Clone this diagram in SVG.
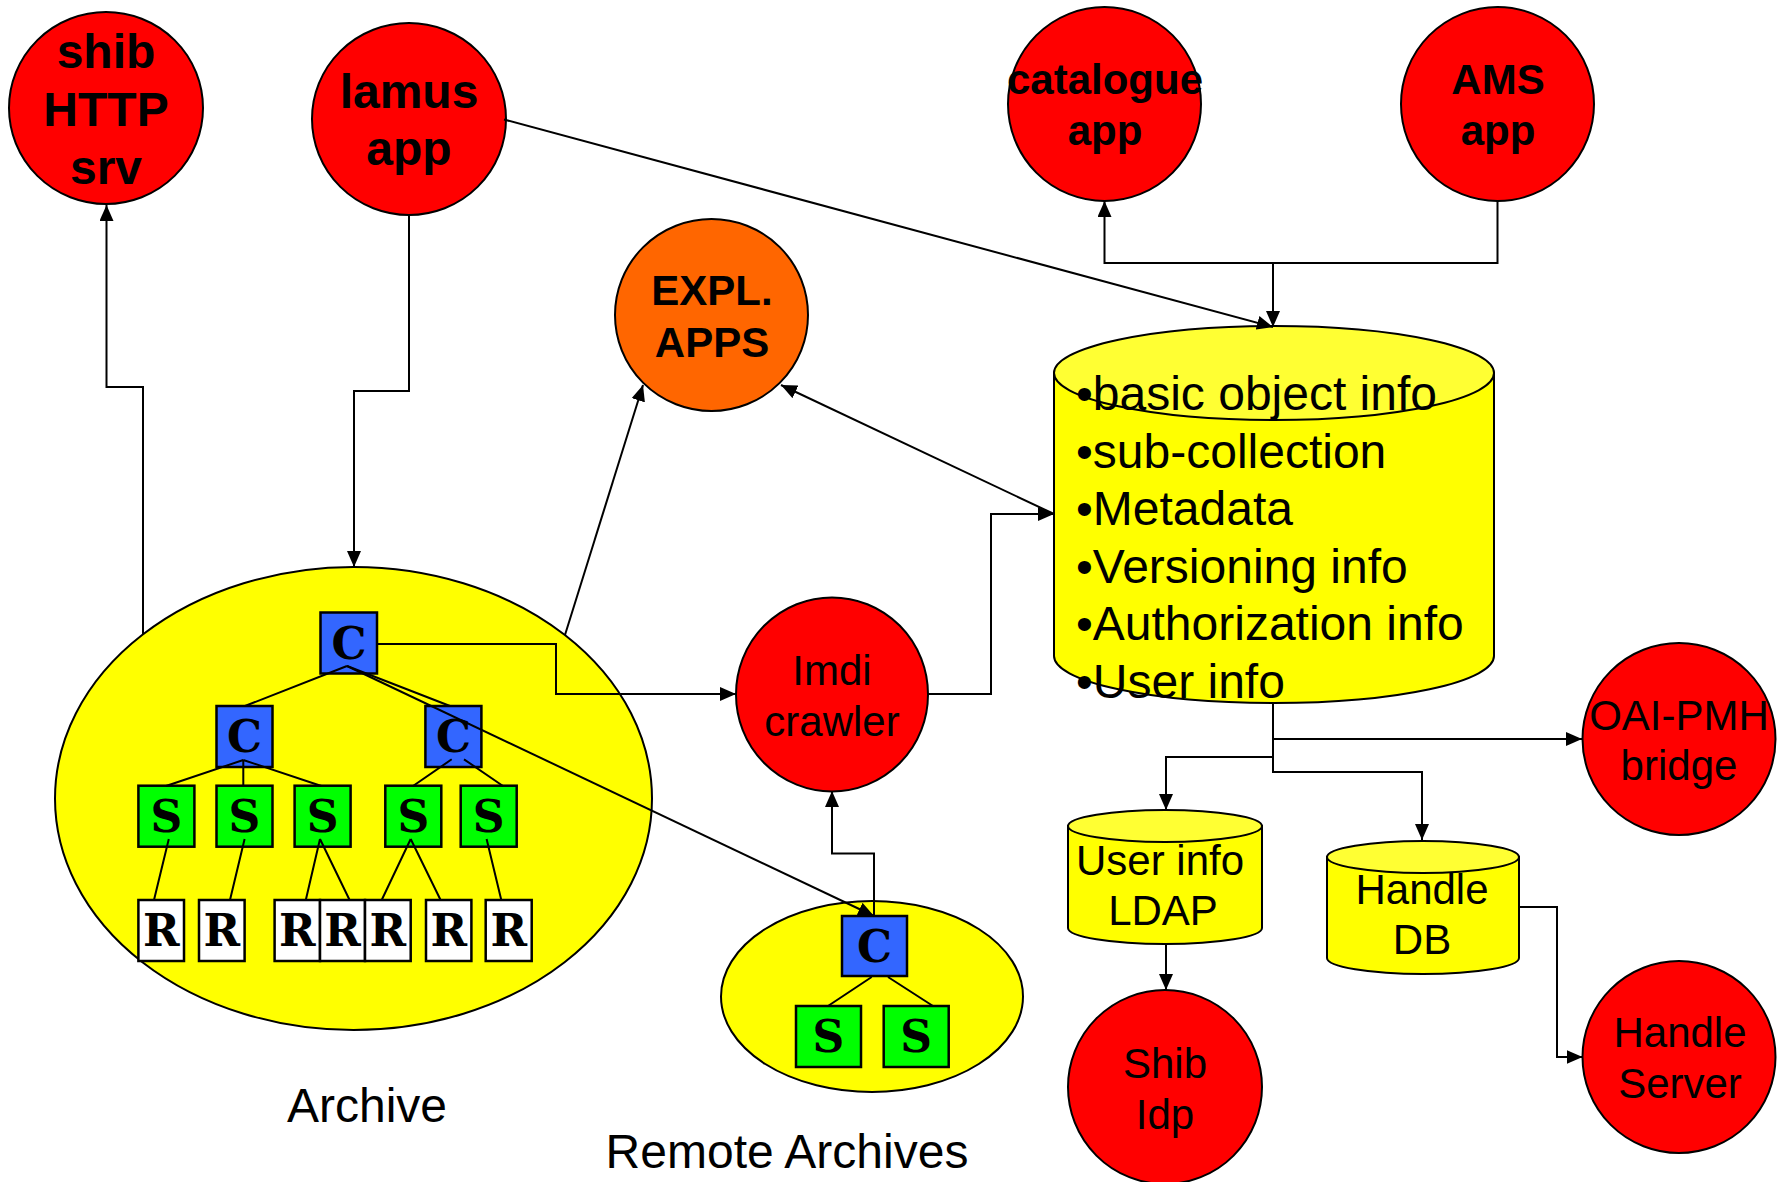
<svg xmlns="http://www.w3.org/2000/svg" width="1785" height="1182" viewBox="0 0 1785 1182">
<style>
.red{fill:#ff0000;stroke:#000;stroke-width:2}
.org{fill:#ff6600;stroke:#000;stroke-width:2}
.yel{fill:#ffff00;stroke:#000;stroke-width:2}
.yeltop{fill:#ffff33;stroke:#000;stroke-width:2}
.blue{fill:#3366ff;stroke:#000;stroke-width:2.5}
.green{fill:#00ff00;stroke:#000;stroke-width:2.5}
.white{fill:#fff;stroke:#000;stroke-width:2.5}
.b{font-family:"Liberation Sans",Arial,sans-serif;font-weight:bold;text-anchor:middle;fill:#000}
.r{font-family:"Liberation Sans",Arial,sans-serif;text-anchor:middle;fill:#000}
.l{font-family:"Liberation Sans",Arial,sans-serif;fill:#000;font-size:48px}
.t{font-family:"DejaVu Serif",serif;font-weight:bold;font-size:44px;text-anchor:middle;fill:#000}
.e{fill:none;stroke:#000;stroke-width:2}
.c{fill:none;stroke:#000;stroke-width:2;marker-end:url(#ah)}
</style>
<defs>
<marker id="ah" markerUnits="userSpaceOnUse" markerWidth="16" markerHeight="14" refX="16" refY="7" orient="auto">
<path d="M0,0 L16,7 L0,14 z" fill="#000"/>
</marker>
</defs>
<rect width="1785" height="1182" fill="#fff"/>

<g id="shib-http-srv">
<ellipse class="red" cx="106" cy="108" rx="97" ry="96"/>
<text class="b" font-size="48" x="106" y="68">shib</text>
<text class="b" font-size="48" x="106" y="126">HTTP</text>
<text class="b" font-size="48" x="106" y="184">srv</text>
</g>
<g id="lamus-app">
<ellipse class="red" cx="409" cy="119" rx="97" ry="96"/>
<text class="b" font-size="48" x="409" y="108">lamus</text>
<text class="b" font-size="48" x="409" y="165">app</text>
</g>
<g id="catalogue-app">
<ellipse class="red" cx="1104.5" cy="104" rx="96.5" ry="97"/>
<text class="b" font-size="42" x="1105" y="94">catalogue</text>
<text class="b" font-size="42" x="1105" y="145">app</text>
</g>
<g id="ams-app">
<ellipse class="red" cx="1497.5" cy="104" rx="96.5" ry="97"/>
<text class="b" font-size="42" x="1498" y="94">AMS</text>
<text class="b" font-size="42" x="1498" y="145">app</text>
</g>
<g id="expl-apps">
<ellipse class="org" cx="711.5" cy="315" rx="96.5" ry="96"/>
<text class="b" font-size="42" x="712" y="305">EXPL.</text>
<text class="b" font-size="42" x="712" y="357">APPS</text>
</g>

<g id="main-db">
<path class="yel" d="M1054,373 L1054,656 A220,47 0 0 0 1494,656 L1494,373 Z"/>
<ellipse class="yeltop" cx="1274" cy="373" rx="220" ry="47"/>
<text class="l" x="1076" y="410">•basic object info</text>
<text class="l" x="1076" y="467.5">•sub-collection</text>
<text class="l" x="1076" y="525">•Metadata</text>
<text class="l" x="1076" y="582.5">•Versioning info</text>
<text class="l" x="1076" y="640">•Authorization info</text>
<text class="l" x="1076" y="697.5">•User info</text>
</g>

<g id="archive">
<ellipse class="yel" cx="353.5" cy="798.5" rx="298.5" ry="231.5"/>
<rect class="blue" x="320.5" y="612.5" width="56.5" height="61"/>
<text class="t" x="349" y="659">C</text>
<rect class="blue" x="216.5" y="706" width="56" height="61"/>
<text class="t" x="244.5" y="752">C</text>
<rect class="blue" x="425.4" y="706" width="56" height="61"/>
<text class="t" x="453.4" y="752">C</text>
<rect class="green" x="138.4" y="785.7" width="56" height="61"/>
<text class="t" x="166.4" y="832">S</text>
<rect class="green" x="216.5" y="785.7" width="56" height="61"/>
<text class="t" x="244.5" y="832">S</text>
<rect class="green" x="294.6" y="785.7" width="56" height="61"/>
<text class="t" x="322.6" y="832">S</text>
<rect class="green" x="385.3" y="785.7" width="56" height="61"/>
<text class="t" x="413.3" y="832">S</text>
<rect class="green" x="460.7" y="785.7" width="56" height="61"/>
<text class="t" x="488.7" y="832">S</text>
<rect class="white" x="138.4" y="900" width="45.6" height="61"/>
<text class="t" x="161.2" y="946">R</text>
<rect class="white" x="199" y="900" width="45.6" height="61"/>
<text class="t" x="221.8" y="946">R</text>
<rect class="white" x="274.6" y="900" width="45.4" height="61"/>
<text class="t" x="297.3" y="946">R</text>
<rect class="white" x="320" y="900" width="45" height="61"/>
<text class="t" x="342.5" y="946">R</text>
<rect class="white" x="365" y="900" width="45.7" height="61"/>
<text class="t" x="387.8" y="946">R</text>
<rect class="white" x="426" y="900" width="45.4" height="61"/>
<text class="t" x="448.7" y="946">R</text>
<rect class="white" x="485.7" y="900" width="46" height="61"/>
<text class="t" x="508.7" y="946">R</text>
<path class="e" d="M347,666 L245,706 M347,666 L450,706 M243.3,760 L166,786 M243.3,760 L243.3,786 M243.3,760 L321.4,786 M451.7,759.3 L413,786 M464,759.3 L503,786 M168.8,839 L154,900 M244.6,839 L230,900 M320,839 L305.8,900 M320,839 L349.6,900 M410.7,839 L381.7,900 M410.7,839 L440.6,900 M486.6,839 L501.3,900"/>
</g>
<text id="archive-label" class="r" font-size="48" x="367" y="1122">Archive</text>

<g id="remote-archives">
<ellipse class="yel" cx="872" cy="996.5" rx="151" ry="95.5"/>
<rect class="blue" x="842" y="916" width="65" height="60"/>
<text class="t" x="874.5" y="962">C</text>
<rect class="green" x="796" y="1006" width="65" height="61"/>
<text class="t" x="828.5" y="1052">S</text>
<rect class="green" x="883.7" y="1006" width="65" height="61"/>
<text class="t" x="916.2" y="1052">S</text>
<path class="e" d="M871.7,977 L828,1006 M888,977 L933,1006"/>
</g>
<text id="remote-label" class="r" font-size="48" x="787" y="1168">Remote Archives</text>

<g id="imdi-crawler">
<ellipse class="red" cx="832" cy="694.4" rx="96" ry="97"/>
<text class="r" font-size="42" x="832" y="685">Imdi</text>
<text class="r" font-size="42" x="832" y="736">crawler</text>
</g>
<g id="oai-pmh-bridge">
<ellipse class="red" cx="1679" cy="739" rx="96.5" ry="96"/>
<text class="r" font-size="42" x="1679" y="730">OAI-PMH</text>
<text class="r" font-size="42" x="1679" y="780">bridge</text>
</g>
<g id="user-info-ldap">
<path class="yel" d="M1068,826 L1068,928 A97,16 0 0 0 1262,928 L1262,826 Z"/>
<ellipse class="yeltop" cx="1165" cy="826" rx="97" ry="16"/>
<text class="r" font-size="42" x="1160" y="875">User info</text>
<text class="r" font-size="42" x="1163" y="925">LDAP</text>
</g>
<g id="handle-db">
<path class="yel" d="M1327,857 L1327,958 A96,16 0 0 0 1519,958 L1519,857 Z"/>
<ellipse class="yeltop" cx="1423" cy="857" rx="96" ry="16"/>
<text class="r" font-size="42" x="1422" y="904">Handle</text>
<text class="r" font-size="42" x="1422" y="954">DB</text>
</g>
<g id="shib-idp">
<ellipse class="red" cx="1165" cy="1087" rx="97" ry="97"/>
<text class="r" font-size="42" x="1165" y="1078">Shib</text>
<text class="r" font-size="42" x="1165" y="1129">Idp</text>
</g>
<g id="handle-server">
<ellipse class="red" cx="1679" cy="1057" rx="96.5" ry="96"/>
<text class="r" font-size="42" x="1680" y="1047">Handle</text>
<text class="r" font-size="42" x="1680" y="1098">Server</text>
</g>

<g id="connectors">
<polyline class="c" points="143,634 143,387 106.5,387 106.5,205"/>
<polyline class="c" points="409,215 409,391 354,391 354,567"/>
<line class="c" x1="504" y1="119.5" x2="1273" y2="327"/>
<polyline class="c" points="1497.5,201 1497.5,263 1104.5,263 1104.5,201"/>
<line class="c" x1="1273" y1="263" x2="1273" y2="327"/>
<line class="c" x1="565" y1="635" x2="643" y2="385"/>
<line class="c" x1="1054" y1="514" x2="781" y2="385"/>
<polyline class="c" points="377,644 556,644 556,694 736,694"/>
<polyline class="c" points="928,694 991,694 991,514 1054,514"/>
<line class="c" x1="347" y1="666" x2="874" y2="916"/>
<polyline class="c" points="874,916 874,853.5 832,853.5 832,791"/>
<polyline class="c" points="1273,703 1273,772 1422,772 1422,840"/>
<line class="c" x1="1273" y1="739" x2="1582" y2="739"/>
<polyline class="c" points="1273,757 1166,757 1166,810"/>
<line class="c" x1="1166" y1="944" x2="1166" y2="990"/>
<polyline class="c" points="1519,907 1557,907 1557,1057 1582.5,1057"/>
</g>
</svg>
